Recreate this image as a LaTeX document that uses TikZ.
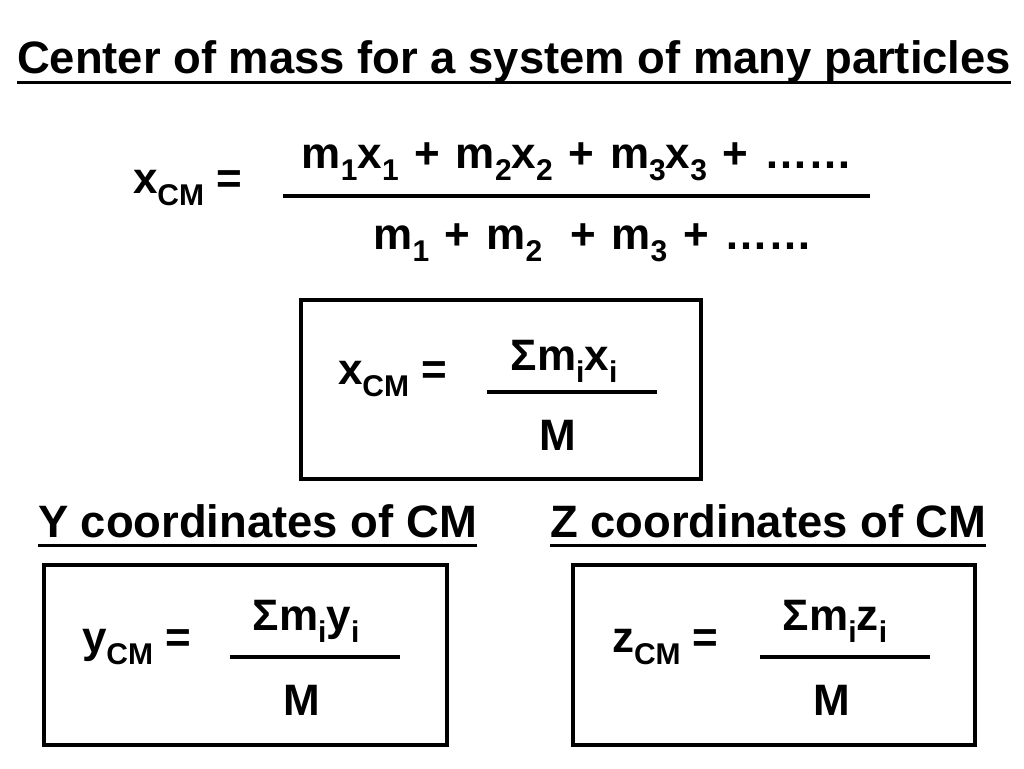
\documentclass[tikz,border=0pt]{standalone}
\usepackage{fontspec}
\setmainfont{Liberation Sans}[BoldFont={Liberation Sans Bold}]
\newcommand{\bigfnt}{\fontsize{44}{50}\selectfont\bfseries}
\newcommand{\headfnt}{\fontsize{45.4}{50}\selectfont\bfseries}
\newcommand{\sbs}[1]{\raisebox{-12pt}{\fontsize{30}{30}\selectfont\bfseries #1}}
\newcommand{\pl}{\hspace{3.5pt} + \hspace{3.5pt}}
\begin{document}
\begin{tikzpicture}[x=1pt,y=-1pt,
  txt/.style={inner sep=0pt,outer sep=0pt,font=\bigfnt},
  head/.style={inner sep=0pt,outer sep=0pt,font=\headfnt,anchor=base west},
  frame/.style={draw,line width=3.5pt,inner sep=0pt,anchor=north west},
  rule/.style={line width=3.5pt},
  uline/.style={line width=3pt}]
\useasboundingbox (0,0) rectangle (1024,768);
\fill[white] (0,0) rectangle (1024,768);
% title
\node[head] (title) at (17,73) {Center of mass for a system of many particles};
\draw[uline] ([yshift=-9pt]title.base west) -- ([yshift=-9pt]title.base east);
% main formula
\node[txt,anchor=base west] (xcm) at (133,193) {x\sbs{CM} =};
\node[txt,anchor=base] (num) at (577,168) {m\sbs{1}x\sbs{1}\pl m\sbs{2}x\sbs{2}\pl m\sbs{3}x\sbs{3}\pl ……};
\node[txt,anchor=base] (den) at (593,249) {m\sbs{1}\pl m\sbs{2}\ \pl m\sbs{3}\pl ……};
\coordinate (f0a) at (283,196);
\coordinate (f0b) at (870,196);
\draw[rule] (f0a) -- (f0b);
% box x
\node[frame,minimum width=400pt,minimum height=179pt] (bx) at (299,298) {};
\node[txt,anchor=base west] (xcm2) at (338,384) {x\sbs{CM} =};
\node[txt,anchor=base] (sx) at (564,370) {Σm\sbs{i}x\sbs{i}};
\node[txt,anchor=base] (mx) at (558,450) {M};
\coordinate (f1a) at (487,392);
\coordinate (f1b) at (657,392);
\draw[rule] (f1a) -- (f1b);
% headings
\node[head] (hy) at (38,537) {Y coordinates of CM};
\draw[uline] ([yshift=-8pt]hy.base west) -- ([yshift=-8pt]hy.base east);
\node[head] (hz) at (550,537) {Z coordinates of CM};
\draw[uline] ([yshift=-8pt]hz.base west) -- ([yshift=-8pt]hz.base east);
% box y
\node[frame,minimum width=403pt,minimum height=180pt] (by) at (42,563) {};
\node[txt,anchor=base west] (ycm) at (82,652) {y\sbs{CM} =};
\node[txt,anchor=base] (sy) at (306,630) {Σm\sbs{i}y\sbs{i}};
\node[txt,anchor=base] (my) at (302,715) {M};
\coordinate (f2a) at (230,657);
\coordinate (f2b) at (400,657);
\draw[rule] (f2a) -- (f2b);
% box z
\node[frame,minimum width=402pt,minimum height=180pt] (bz) at (571,563) {};
\node[txt,anchor=base west] (zcm) at (612,652) {z\sbs{CM} =};
\node[txt,anchor=base] (sz) at (835,630) {Σm\sbs{i}z\sbs{i}};
\node[txt,anchor=base] (mz) at (832,715) {M};
\coordinate (f3a) at (760,657);
\coordinate (f3b) at (930,657);
\draw[rule] (f3a) -- (f3b);
\end{tikzpicture}
\end{document}
